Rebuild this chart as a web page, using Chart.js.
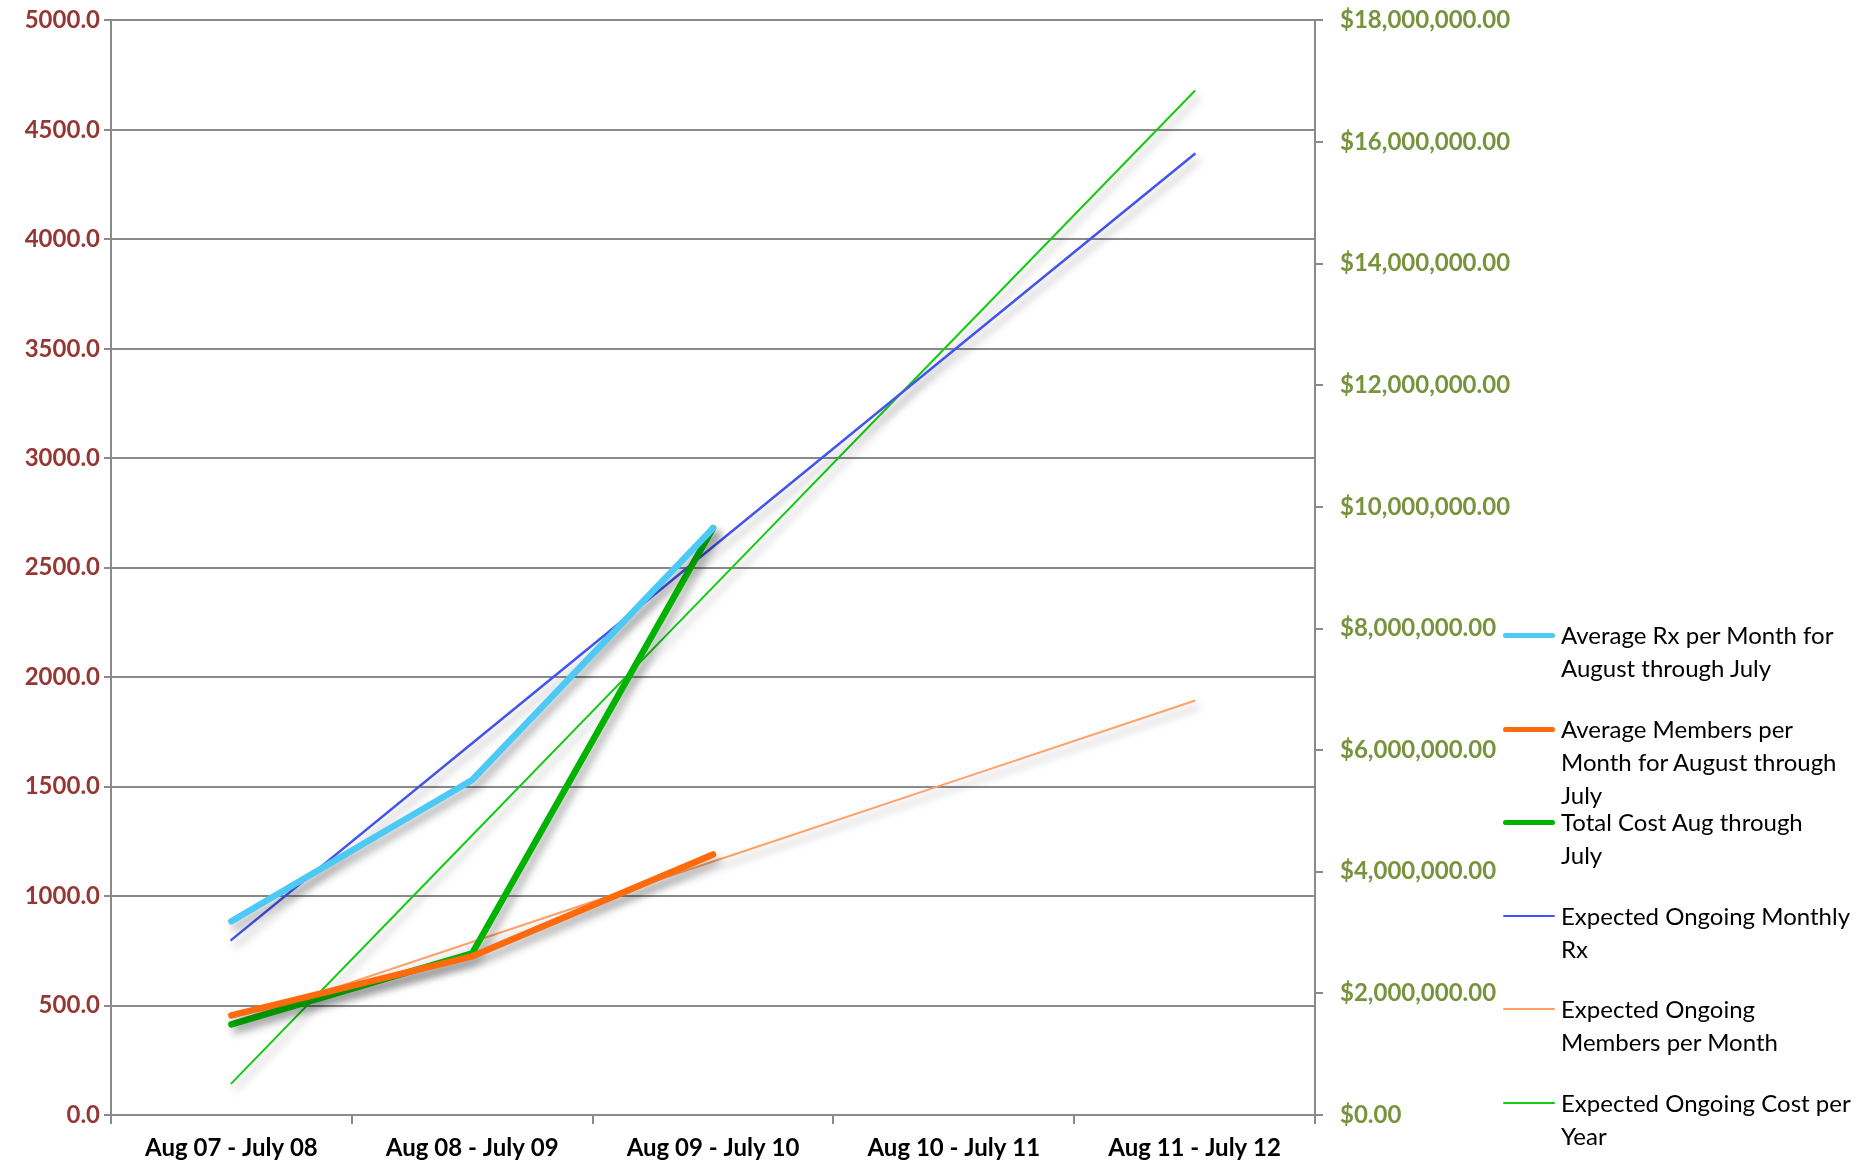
<!DOCTYPE html>
<html lang="en">
<head>
<meta charset="UTF-8">
<script src="https://cdn.jsdelivr.net/npm/chart.js"></script>
<style>
    body { margin: 0; background: #fff; overflow: hidden; }
    .wrap { position: relative; width: 1868px; height: 1165px; overflow: hidden; }
    .area { position: absolute; left: 0; top: -11px; width: 1868px; height: 1176px; }
    .legenda { position: absolute; left: 1503px; top: 0; font-family: Lato, "Open Sans", sans-serif; font-size: 24px; color: #000; }
    .item { position: absolute; left: 0; width: 365px; }
    .item .linha { position: absolute; left: 0; width: 52px; border-radius: 3px; }
    .item .txt { position: absolute; left: 58px; top: -17px; line-height: 33px; white-space: nowrap; }
</style>
</head>
<body>
<div class="wrap">
    <div class="area"><canvas id="grafico"></canvas></div>
    <div class="legenda" id="legenda"></div>
</div>

<script>
// categorias e valores
var periodos = ['Aug 07 - July 08', 'Aug 08 - July 09', 'Aug 09 - July 10', 'Aug 10 - July 11', 'Aug 11 - July 12'];

var mediaRx = [885, 1530, 2680, null, null];
var mediaMembros = [455, 725, 1190, null, null];
var custoTotal = [1490000, 2660000, 9650000, null, null];

var esperadoRx = [800, 1698, 2596, 3493, 4390];
var esperadoMembros = [423, 790, 1158, 1525, 1892];
var esperadoCusto = [520000, 4600000, 8680000, 12760000, 16840000];

var nomes = [
    'Average Rx per Month for<br>August through July',
    'Average Members per<br>Month for August through<br>July',
    'Total Cost Aug through<br>July',
    'Expected Ongoing Monthly<br>Rx',
    'Expected Ongoing<br>Members per Month',
    'Expected Ongoing Cost per<br>Year'
];
var cores = ['#4CC9F5', '#FF6A0D', '#00B300', '#4355EE', '#FFA066', '#11CC11'];
var espessuras = [6.5, 6.5, 6.5, 2.5, 2, 2];

// sombra das linhas (como no Excel)
const sombra = {
    id: 'sombra',
    beforeDatasetsDraw(chart) {
        const c = chart.ctx;
        c.save();
        c.shadowColor = 'rgba(0,0,0,0.35)';
        c.shadowBlur = 9;
        c.shadowOffsetX = 4;
        c.shadowOffsetY = 6;
    },
    afterDatasetsDraw(chart) {
        chart.ctx.restore();
    }
};

function serie(i, dados, eixo) {
    return {
        label: nomes[i].replace(/<br>/g, ' '),
        data: dados,
        yAxisID: eixo,
        borderColor: cores[i],
        backgroundColor: cores[i],
        borderWidth: espessuras[i],
        borderCapStyle: 'round',
        borderJoinStyle: 'round',
        pointRadius: 0,
        tension: 0,
        fill: false,
        spanGaps: false
    };
}

var cinza = '#8a8a8a';
var fonteEixo = { family: 'Lato', size: 24, weight: 'bold' };

const config = {
    type: 'line',
    data: {
        labels: periodos,
        datasets: [
            serie(0, mediaRx, 'y'),
            serie(1, mediaMembros, 'y'),
            serie(2, custoTotal, 'y1'),
            serie(3, esperadoRx, 'y'),
            serie(4, esperadoMembros, 'y'),
            serie(5, esperadoCusto, 'y1')
        ]
    },
    options: {
        responsive: true,
        maintainAspectRatio: false,
        animation: false,
        layout: { padding: 0 },
        plugins: {
            legend: { display: false },
            tooltip: { enabled: false }
        },
        scales: {
            x: {
                offset: true,
                grid: { display: true, drawOnChartArea: false, drawTicks: true, tickLength: 9, color: cinza, lineWidth: 2, offset: true },
                border: { display: true, color: cinza, width: 2 },
                ticks: {
                    color: '#000',
                    padding: 10,
                    font: fonteEixo
                },
                afterFit: function (s) { s.height = 50; }
            },
            y: {
                position: 'left',
                min: 0,
                max: 5000,
                grid: { color: cinza, lineWidth: 2, tickLength: 7 },
                border: { display: true, color: cinza, width: 2 },
                ticks: {
                    stepSize: 500,
                    color: '#953735',
                    padding: 4,
                    font: fonteEixo,
                    callback: function (v) { return v.toFixed(1); }
                },
                afterFit: function (s) { s.width = 111; }
            },
            y1: {
                position: 'right',
                min: 0,
                max: 18000000,
                grid: { drawOnChartArea: false, color: cinza, lineWidth: 2, tickLength: 8 },
                border: { display: true, color: cinza, width: 2 },
                ticks: {
                    stepSize: 2000000,
                    color: '#77933C',
                    padding: 17,
                    font: fonteEixo,
                    callback: function (v) {
                        return '$' + v.toLocaleString('en-US', { minimumFractionDigits: 2, maximumFractionDigits: 2 });
                    }
                },
                afterFit: function (s) { s.width = 553; }
            }
        }
    },
    plugins: [sombra]
};

const grafico = new Chart(document.getElementById('grafico'), config);

// legenda em HTML para quebrar as linhas como no original
var posicoes = [635, 729, 822, 916, 1009, 1103];
var legenda = document.getElementById('legenda');
for (var i = 0; i < nomes.length; i++) {
    var item = document.createElement('div');
    item.className = 'item';
    item.style.top = posicoes[i] + 'px';
    var h = espessuras[i] > 3 ? 5 : 2;
    item.innerHTML = '<div class="linha" style="background:' + cores[i] + ';height:' + h + 'px;top:' + (-h / 2) + 'px"></div>' +
        '<div class="txt">' + nomes[i] + '</div>';
    legenda.appendChild(item);
}
</script>
</body>
</html>
